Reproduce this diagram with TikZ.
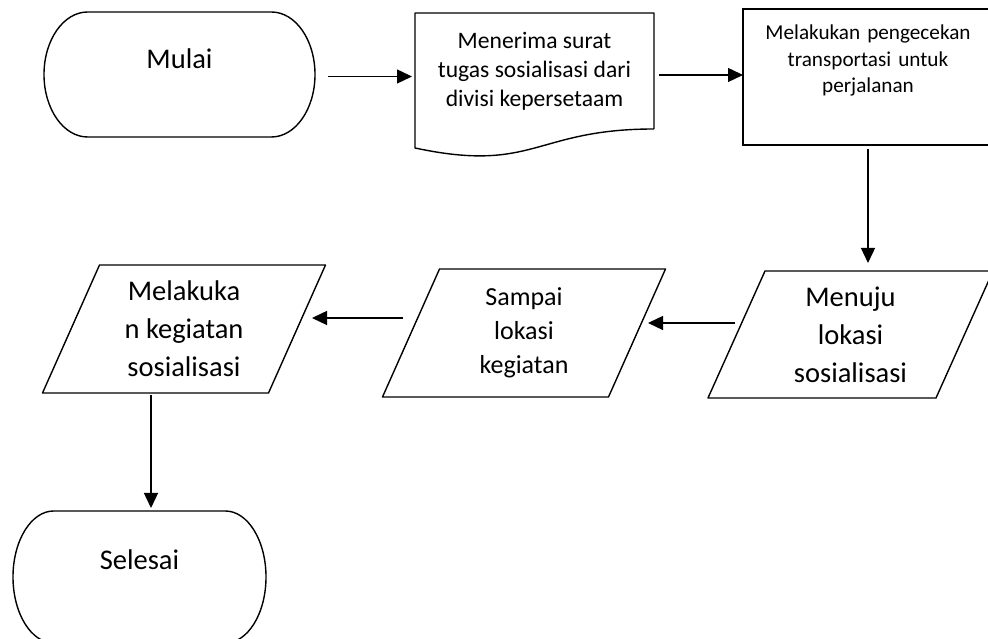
\documentclass[tikz,border=0pt]{standalone}
\usepackage{fontspec}
\setmainfont{Carlito}
\usetikzlibrary{arrows.meta}

\tikzset{
  flowbox/.style={inner sep=0pt, outer sep=0pt, align=center},
  outline/.style={line width=1.4pt, line join=round},
  arr/.style={line width=1.4pt, -{Triangle[length=15pt, width=14pt]}},
  bigtext/.style={font=\fontsize{28.5}{38}\selectfont},
}

\begin{document}
\begin{tikzpicture}[x=1pt, y=1pt]
  \useasboundingbox (0,0) rectangle (988,639);
  \fill[white] (0,0) rectangle (988,639);

  % nodes
  \node[flowbox, bigtext, minimum width=271pt, minimum height=125pt,
        text height=20pt, text depth=31pt] (mulai) at (179.5,564.5) {Mulai};
  \node[flowbox, font=\fontsize{23.6}{29}\selectfont,
        minimum width=239pt, minimum height=116pt] (surat) at (534.5,568)
        {Menerima surat\\tugas sosialisasi dari\\divisi kepersetaam};
  \node[flowbox, draw, line width=1.4pt, font=\fontsize{21.2}{26.5}\selectfont,
        text width=250pt, minimum height=136pt,
        text height=20pt, text depth=94pt] (cek) at (868,562)
        {Melakukan pengecekan\\transportasi untuk\\perjalanan};
  \node[flowbox, bigtext, minimum width=228pt, minimum height=127pt] (menuju) at (850.5,304.5)
        {Menuju\\lokasi\\sosialisasi};
  \node[flowbox, font=\fontsize{26}{34}\selectfont,
        minimum width=226pt, minimum height=128pt] (sampai) at (524,306)
        {Sampai\\lokasi\\kegiatan};
  \node[flowbox, bigtext, minimum width=226pt, minimum height=128pt] (sosialisasi) at (184,310)
        {Melakuka\\n kegiatan\\sosialisasi};
  \node[flowbox, bigtext, minimum width=253pt, minimum height=132pt,
        text height=20pt, text depth=34pt] (selesai) at (139.5,62) {Selesai};

  % outlines
  \foreach \n/\rx/\ry in {mulai/43.6/62.5, selesai/40.7/66}
    \draw[outline] ([xshift=\rx pt]\n.north west) -- ([xshift=-\rx pt]\n.north east)
      arc[start angle=90, end angle=-90, x radius=\rx pt, y radius=\ry pt]
      -- ([xshift=\rx pt]\n.south west)
      arc[start angle=270, end angle=90, x radius=\rx pt, y radius=\ry pt] -- cycle;
  \foreach \n in {menuju,sampai,sosialisasi}
    \draw[outline] ([xshift=-28.5pt]\n.south west) -- ([xshift=28.5pt]\n.north west)
      -- ([xshift=28.5pt]\n.north east) -- ([xshift=-28.5pt]\n.south east) -- cycle;
  \draw[outline] (surat.south east) -- (surat.north east) -- (surat.north west)
    -- ([yshift=-19pt]surat.south west)
    .. controls ([yshift=-44.5pt]surat.south) and (surat.south) .. (surat.south east);

  % connectors
  \draw[arr] ([xshift=13pt,yshift=-2pt]mulai.east) -- ([xshift=-3pt,yshift=-2pt]mulai.east -| surat.west);
  \draw[arr] ([xshift=5pt,yshift=-4pt]surat.east) -- ([yshift=-4pt]surat.east -| cek.west);
  \draw[arr] ([yshift=-4pt]cek.south) -- ([yshift=8pt]cek.south |- menuju.north);
  \draw[arr] ([xshift=-2pt,yshift=11.5pt]menuju.west) -- ([xshift=11pt,yshift=11.5pt]menuju.west -| sampai.east);
  \draw[arr] ([xshift=-8pt,yshift=15pt]sampai.west) -- ([xshift=15pt,yshift=15pt]sampai.west -| sosialisasi.east);
  \draw[arr] ([xshift=-33pt,yshift=-2pt]sosialisasi.south) -- ([xshift=-33pt,yshift=3pt]sosialisasi.south |- selesai.north);
\end{tikzpicture}
\end{document}
